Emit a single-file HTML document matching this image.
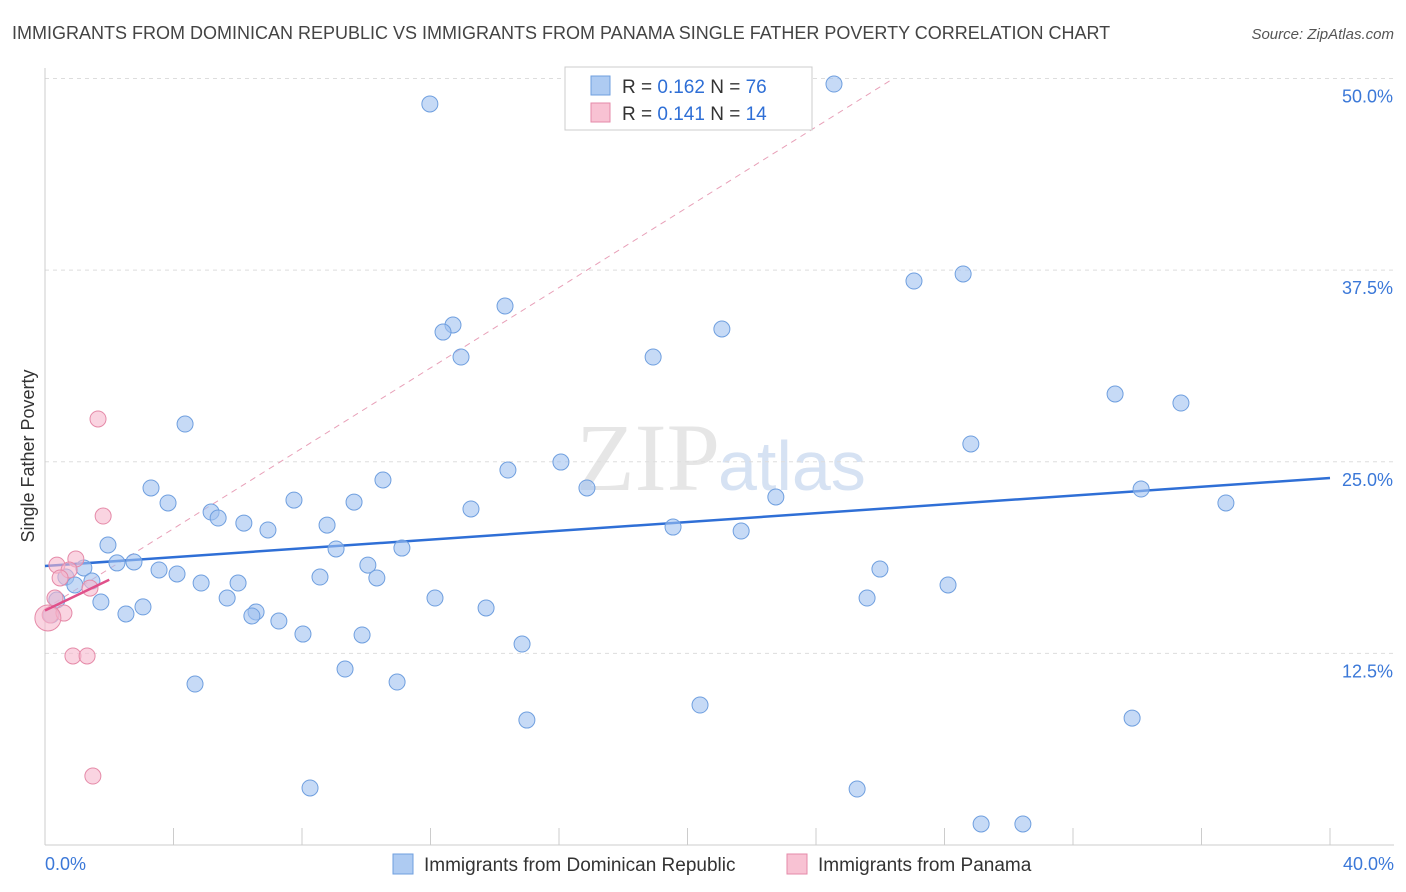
<!DOCTYPE html>
<html><head><meta charset="utf-8"><style>
body{margin:0;background:#fff;font-family:"Liberation Sans",sans-serif;}
svg{display:block}
</style></head><body>
<svg id="chart" width="1406" height="892">
<text x="12" y="39" font-size="18" fill="#444">IMMIGRANTS FROM DOMINICAN REPUBLIC VS IMMIGRANTS FROM PANAMA SINGLE FATHER POVERTY CORRELATION CHART</text>
<text x="1394" y="39" font-size="15" fill="#555" font-style="italic" text-anchor="end">Source: ZipAtlas.com</text>
<text x="720" y="490" font-size="96" fill="#e6e6e6" font-family="Liberation Serif,serif" text-anchor="end">ZIP</text>
<text x="718" y="490" font-size="70" fill="#d6e2f3">atlas</text>
<g id="grid"></g><g id="axes"></g><g id="lines"></g><g id="points"></g>
<text transform="translate(34,456) rotate(-90)" font-size="18" fill="#333" text-anchor="middle">Single Father Poverty</text>
<g>
<rect x="565" y="67" width="247" height="63" fill="#fff" stroke="#ccc"/>
<rect x="591" y="76" width="19" height="19" fill="#aecbf2" stroke="#6f9fdf"/>
<rect x="591" y="103" width="19" height="19" fill="#f8c2d3" stroke="#e58aa8"/>
<text x="622" y="93" font-size="19" fill="#333">R = <tspan fill="#2f6fd6">0.162</tspan>   N = <tspan fill="#2f6fd6">76</tspan></text>
<text x="622" y="120" font-size="19" fill="#333">R =  <tspan fill="#2f6fd6">0.141</tspan>   N = <tspan fill="#2f6fd6">14</tspan></text>
</g>
<g>
<rect x="393" y="854" width="20" height="20" fill="#aecbf2" stroke="#6f9fdf"/>
<text x="424" y="871" font-size="19" fill="#333">Immigrants from Dominican Republic</text>
<rect x="787" y="854" width="20" height="20" fill="#f8c2d3" stroke="#e58aa8"/>
<text x="818" y="871" font-size="19" fill="#333">Immigrants from Panama</text>
</g>
</svg>
<script>
const blueX=[11.98,24.56,27.05,28.58,14.32,12.70,12.39,21.07,12.95,18.93,33.31,35.36,4.36,28.82,16.06,14.41,10.52,3.30,16.87,34.12,3.83,7.75,9.62,22.75,5.17,5.39,13.26,36.76,6.19,6.94,8.78,19.55,21.67,1.96,9.06,11.11,2.77,2.24,1.21,10.05,3.55,4.11,25.99,8.56,10.33,0.65,1.46,0.93,4.86,6.01,28.11,5.67,12.14,25.59,1.74,0.37,3.05,13.73,2.52,6.57,6.44,7.28,0.19,9.87,8.03,14.85,9.34,4.67,10.96,20.39,33.84,15.00,8.25,25.28,29.14,30.44];
const blueY=[48.34,49.64,36.79,37.25,35.16,33.92,33.46,33.66,31.83,31.83,29.42,28.83,27.46,26.16,24.98,24.46,23.81,23.29,23.29,23.22,22.31,22.50,22.37,22.70,21.72,21.33,21.92,22.31,21.00,20.55,20.87,20.74,20.48,19.57,19.31,19.37,18.46,18.40,18.07,18.26,17.94,17.68,18.00,17.48,17.42,17.48,17.22,16.96,17.09,17.09,16.96,16.11,16.11,16.11,15.85,15.98,15.53,15.46,15.07,15.20,14.94,14.61,15.00,13.70,13.76,13.11,11.48,10.50,10.63,9.13,8.28,8.15,3.72,3.65,1.37,1.37];
const pinkX=[1.65,1.81,0.96,0.37,0.75,0.47,1.40,0.31,0.16,0.59,0.87,1.31,1.49,0.09];
const pinkY=[27.79,21.46,18.66,18.26,17.94,17.42,16.76,16.11,15.00,15.13,12.33,12.33,4.50,14.81];
const yTicks=[12.5,25,37.5,50];
const yTickLabels=["12.5%","25.0%","37.5%","50.0%"];
const blueFit=[18.2,23.94];
const pinkFit=[15.3,1.0];
const pinkDash=[15.4,1.31];
const X=v=>45+v*32.125, Y=v=>845-v*15.33;
const NS="http://www.w3.org/2000/svg";
function mk(p,t,a){const e=document.createElementNS(NS,t);for(const k in a)e.setAttribute(k,a[k]);document.getElementById(p).appendChild(e);return e;}
yTicks.forEach((t,i)=>{
 const g=mk('grid','line',{x1:45,x2:1394,y1:Y(t),y2:Y(t),stroke:'#ddd','stroke-dasharray':'4,4'});
 
 
 const l=mk('axes','text',{x:1393,y:Y(t)+24,'font-size':18,fill:'#3b78d8','text-anchor':'end'});
 l.textContent=yTickLabels[i];
 
 
});
const ax=mk('axes','line',{x1:45,x2:1394,y1:845,y2:845,stroke:'#ccc'});


const ay=mk('axes','line',{x1:45,x2:45,y1:68,y2:845,stroke:'#ccc'});


for(let i=1;i<=10;i++){const t=mk('axes','line',{x1:X(i*4),x2:X(i*4),y1:828,y2:845,stroke:'#ccc'});
 
 }
[[0,"0.0%",'start',45],[40,"40.0%",'end',1394]].forEach(d=>{const t=mk('axes','text',{x:d[3],y:870,'font-size':18,fill:'#3b78d8','text-anchor':d[2]});t.textContent=d[1];
 
 });
const dl=mk('lines','line',{x1:X(0),y1:Y(pinkDash[0]),x2:X((50-pinkDash[0])/pinkDash[1]),y2:Y(50),stroke:'#e8a0b8','stroke-dasharray':'6,5','stroke-width':1});


const bl=mk('lines','line',{x1:X(0),y1:Y(blueFit[0]),x2:X(40),y2:Y(blueFit[1]),stroke:'#2f6fd6','stroke-width':2.5});


blueX.forEach((x,i)=>{const c=mk('points','circle',{cx:X(x),cy:Y(blueY[i]),r:8,fill:'rgba(160,194,240,0.6)',stroke:'#6f9fdf','stroke-width':1});
 
 });
pinkX.forEach((x,i)=>{const c=mk('points','circle',{cx:X(x),cy:Y(pinkY[i]),r:i==13?13:8,fill:'rgba(246,184,205,0.6)',stroke:'#e58aa8','stroke-width':1});
 
 });
const pl=mk('lines','line',{x1:X(0),y1:Y(pinkFit[0]),x2:X(2),y2:Y(pinkFit[0]+2*pinkFit[1]),stroke:'#e0508a','stroke-width':2.5});


document.getElementById('chart').appendChild(pl);
</script>
</body></html>
